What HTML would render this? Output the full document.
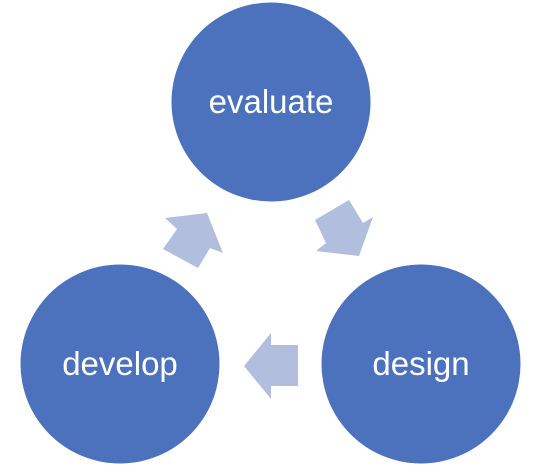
<!DOCTYPE html>
<html><head><style>html,body{margin:0;padding:0;background:#fff;width:546px;height:476px;overflow:hidden}</style></head>
<body>
<svg width="546" height="476" viewBox="0 0 546 476" xmlns="http://www.w3.org/2000/svg">
<g fill="#4D72BD">
<circle cx="271" cy="102" r="99.5"/>
<circle cx="120" cy="364" r="99.5"/>
<circle cx="421" cy="364" r="99.5"/>
</g>
<g fill="#B2BEDD">
<polygon points="244,366 271,333 271,345 298,345 298,386 271,386 271,399"/>
<polygon points="165,218 207,213 223,253 210,248 198,268 163,249 177,229"/>
<polygon points="315,220 349,200 363,223 373,217 359,256 316,251 326,243"/>
</g>
<g fill="#fff" font-family="'Liberation Sans',sans-serif" font-size="33" text-anchor="middle">
<text x="271" y="113">evaluate</text>
<text x="120" y="375">develop</text>
<text x="421" y="375">design</text>
</g>
</svg>
</body></html>
